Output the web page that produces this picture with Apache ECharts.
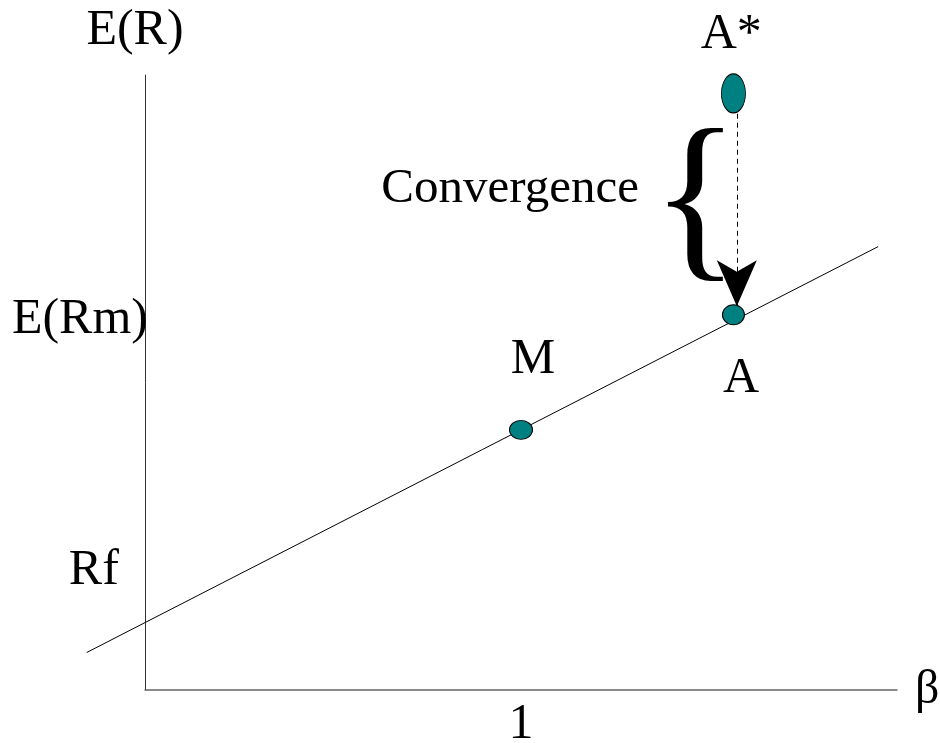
<!DOCTYPE html>
<html>
<head>
<meta charset="utf-8">
<title>SML convergence</title>
<script src="https://cdn.jsdelivr.net/npm/echarts@6/dist/echarts.min.js"></script>
<style>
  body, html { margin: 0; padding: 0; background: #fff; }
  #main { width: 940px; height: 743px; }
</style>
</head>
<body>
<div id="main"></div>
<script>
// security market line, both ends (beta, E(R))
var smlBeta = [-0.155, 1.95];
var smlReturn = [0.61, 7.21];

// portfolios
var pointNames = ['M', 'A', 'A*'];
var pointBeta = [1, 1.565, 1.565];
var pointReturn = [4.23, 6.10, 9.70];

// dashed move from A* down to the line (tip of the arrow at arrowTo)
var arrowBeta = 1.574;
var arrowFrom = 9.37;
var arrowTo = 6.24;

var xTickLabels = ['', '1', ''];

// text notes and where they sit, in (beta, E(R))
var noteTexts = ['E(Rm)', 'Rf', 'M', 'A', 'A*', 'Convergence', '{'];
var noteBeta = [-0.173, -0.136, 1.032, 1.585, 1.559, 0.971, 1.464];
var noteReturn = [6.02, 1.935, 5.37, 5.06, 10.65, 8.15, 7.85];

var serif = 'Liberation Serif';
var dotSize = { 'M': [23, 19], 'A': [22, 20], 'A*': [24, 39] };
var noteFont = { 'Convergence': 49, '{': 184 };

var chart = echarts.init(document.getElementById('main'));

var pointData = pointNames.map(function (n, i) {
    return { name: n, value: [pointBeta[i], pointReturn[i]], symbolSize: dotSize[n] };
});
var noteData = noteTexts.map(function (t, i) { return [noteBeta[i], noteReturn[i]]; });

var option = {
    animation: false,
    backgroundColor: '#fff',
    grid: { left: 145, top: 75, right: 43, bottom: 53, containLabel: false, outerBoundsMode: 'none' },
    xAxis: {
        type: 'value', min: 0, max: 2, interval: 1,
        axisLine: { show: true, onZero: false, lineStyle: { color: '#666', width: 1.5 } },
        axisTick: { show: false },
        splitLine: { show: false },
        axisLabel: {
            formatter: function (v) { return xTickLabels[v] || ''; },
            color: '#000', fontFamily: serif, fontSize: 50, margin: 10,
            showMinLabel: true, showMaxLabel: true
        },
        name: 'β', nameLocation: 'end', nameGap: 18,
        nameTextStyle: { fontFamily: serif, fontSize: 48, color: '#000', padding: [0, 0, 36, 0] }
    },
    yAxis: {
        type: 'value', min: 0, max: 10,
        axisLine: { show: true, onZero: false, lineStyle: { color: '#333', width: 1 } },
        axisTick: { show: false },
        axisLabel: { show: false },
        splitLine: { show: false },
        name: 'E(R)', nameLocation: 'end', nameGap: 19,
        nameTextStyle: { fontFamily: serif, fontSize: 50, color: '#000', padding: [0, 20, 0, 0] }
    },
    series: [{
        // SML runs past the y axis on the left, so draw it as a custom line (not clipped)
        name: 'SML',
        type: 'custom',
        data: [[smlBeta[0], smlReturn[0], smlBeta[1], smlReturn[1]]],
        encode: { x: [0, 2], y: [1, 3] },
        clip: false,
        silent: true,
        renderItem: function (params, api) {
            var a = api.coord([api.value(0), api.value(1)]);
            var b = api.coord([api.value(2), api.value(3)]);
            return {
                type: 'line',
                shape: { x1: a[0], y1: a[1], x2: b[0], y2: b[1] },
                style: { stroke: '#000', lineWidth: 1 }
            };
        },
        z: 1
    }, {
        name: 'portfolios',
        type: 'scatter',
        data: pointData,
        clip: false,
        silent: true,
        itemStyle: { color: '#008080', borderColor: '#000', borderWidth: 1, opacity: 1 },
        z: 3,
        markLine: {
            silent: true,
            symbol: ['none', 'arrow'],
            symbolSize: [30, 46],
            label: { show: false },
            itemStyle: { color: '#000' },
            lineStyle: { color: '#000', width: 1, type: [5, 4], opacity: 1 },
            emphasis: { disabled: true },
            data: [[{ coord: [arrowBeta, arrowFrom] }, { coord: [arrowBeta, arrowTo] }]]
        }
    }, {
        name: 'notes',
        type: 'custom',
        data: noteData,
        clip: false,
        silent: true,
        renderItem: function (params, api) {
            var p = api.coord([api.value(0), api.value(1)]);
            var t = noteTexts[params.dataIndex];
            return {
                type: 'text',
                x: p[0], y: p[1],
                style: {
                    text: t, fill: '#000',
                    fontFamily: serif, fontSize: noteFont[t] || 50,
                    align: 'center', verticalAlign: 'middle'
                }
            };
        },
        z: 4
    }]
};
chart.setOption(option);
</script>
</body>
</html>
